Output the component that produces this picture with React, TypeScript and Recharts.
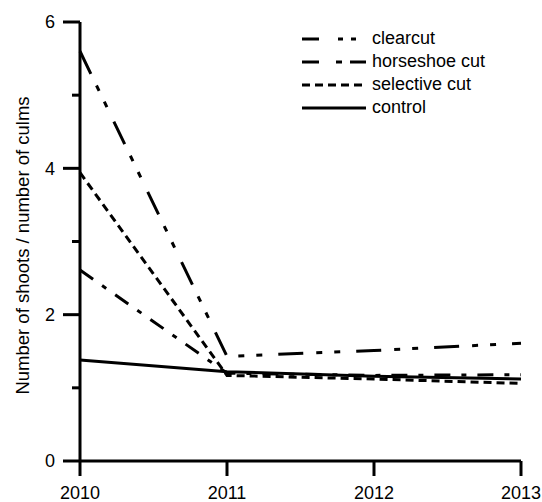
import { LineChart, Line, XAxis, YAxis } from 'recharts'

const years = [2010, 2011, 2012, 2013]
const clearcut = [5.6, 1.43, 1.51, 1.61]
const horseshoe = [2.61, 1.2, 1.17, 1.18]
const selective = [3.94, 1.17, 1.12, 1.06]
const control = [1.38, 1.22, 1.16, 1.12]
const yTicks = [0, 1, 2, 3, 4, 5, 6]

const FONT = '"Liberation Sans", Arial, sans-serif'
const Y_TICK = 17
const Y_TICK_GAP = 8

const series = [
  { key: 'clearcut', name: 'clearcut', dash: '25 13 6 12 6 16', legendDash: '17 19 5 8 5 20' },
  { key: 'horseshoe', name: 'horseshoe cut', dash: '16 11 5 11', legendDash: '17 17 6 8 16' },
  { key: 'selective', name: 'selective cut', dash: '8 5', legendDash: '8 5' },
  { key: 'control', name: 'control', dash: undefined, legendDash: undefined },
]

const data = years.map((year, i) => ({
  year,
  clearcut: clearcut[i],
  horseshoe: horseshoe[i],
  selective: selective[i],
  control: control[i],
}))

// major ticks get a label and a long line, minor ones only a short line
function YTick(props: any) {
  const { x, y, payload } = props
  const axisX = x + Y_TICK + Y_TICK_GAP
  const major = payload.value % 2 === 0
  const len = major ? Y_TICK : 8
  return (
    <g>
      <line x1={axisX - len} x2={axisX} y1={y} y2={y} stroke="#000" strokeWidth={3} />
      {major && (
        <text x={x} y={y} dy="0.35em" textAnchor="end" fontSize={18} fontFamily={FONT} fill="#000">
          {payload.value}
        </text>
      )}
    </g>
  )
}

function LegendBox() {
  return (
    <div style={{ position: 'absolute', left: 302, top: 27, fontFamily: FONT, fontSize: 18, color: '#000' }}>
      {series.map((s) => (
        <div key={s.key} style={{ display: 'flex', alignItems: 'center', height: 23 }}>
          <svg width={64} height={6}>
            <line x1={0} x2={64} y1={3} y2={3} stroke="#000" strokeWidth={3} strokeDasharray={s.legendDash} />
          </svg>
          <span style={{ marginLeft: 6, lineHeight: '23px' }}>{s.name}</span>
        </div>
      ))}
    </div>
  )
}

export default function App() {
  return (
    <div style={{ position: 'absolute', left: 0, top: 0, width: 542, height: 502, background: '#fff' }}>
      <LineChart width={542} height={502} data={data} margin={{ top: 22, right: 21, bottom: 0, left: 0 }}>
        <XAxis
          dataKey="year"
          type="number"
          domain={[2010, 2013]}
          ticks={years}
          interval={0}
          height={41}
          tickSize={15}
          tickMargin={10}
          axisLine={{ stroke: '#000', strokeWidth: 3 }}
          tickLine={{ stroke: '#000', strokeWidth: 3 }}
          tick={{ fill: '#000', fontSize: 18, fontFamily: FONT }}
        />
        <YAxis
          type="number"
          domain={[0, 6]}
          ticks={yTicks}
          interval={0}
          width={80}
          tickSize={Y_TICK}
          tickMargin={Y_TICK_GAP}
          tickLine={false}
          axisLine={{ stroke: '#000', strokeWidth: 3 }}
          tick={<YTick />}
          label={{
            content: (p: any) => {
              const vb = p.viewBox
              const cx = 22
              const cy = vb.y + vb.height / 2 + 4
              return (
                <text x={cx} y={cy} transform={`rotate(-90 ${cx} ${cy})`} textAnchor="middle" dominantBaseline="central" fontSize={18.5} fontFamily={FONT} fill="#000">
                  Number of shoots / number of culms
                </text>
              )
            },
          }}
        />
        {series.map((s) => (
          <Line
            key={s.key}
            dataKey={s.key}
            name={s.name}
            stroke="#000"
            strokeWidth={3}
            strokeDasharray={s.dash}
            dot={false}
            activeDot={false}
            isAnimationActive={false}
          />
        ))}
      </LineChart>
      <LegendBox />
    </div>
  )
}
